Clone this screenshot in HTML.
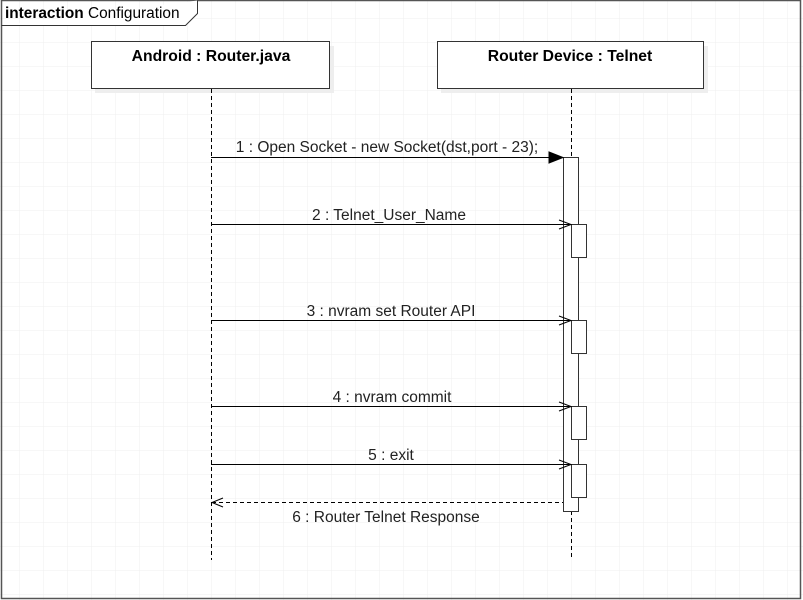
<!DOCTYPE html>
<html><head><style>
body{margin:0;background:#fff;}
svg{display:block;font-family:"Liberation Sans",sans-serif;}
</style></head><body>
<svg width="803" height="600" viewBox="0 0 803 600">
<defs>
<pattern id="g" width="24" height="24" patternUnits="userSpaceOnUse" x="19" y="18">
<path d="M0 0H24M0 0V24" stroke="#efefef" stroke-width="1" fill="none"/>
</pattern>
</defs>
<rect x="0" y="0" width="803" height="600" fill="url(#g)"/>
<rect x="1.5" y="0.5" width="799" height="598" fill="none" stroke="#555" stroke-width="1.5"/>
<path d="M1.5 25.5H185.5L197.5 13.5V0.5" fill="#fff" stroke="#333"/>
<text x="5" y="18" font-size="15.4"><tspan font-weight="bold">interaction</tspan> Configuration</text>

<rect x="95" y="46" width="239" height="47" fill="#eee"/>
<rect x="91.5" y="41.5" width="238" height="47" fill="#fff" stroke="#333"/>
<text x="211" y="61" font-size="15.7" font-weight="bold" text-anchor="middle">Android : Router.java</text>
<rect x="441" y="46" width="267" height="47" fill="#eee"/>
<rect x="437.5" y="41.5" width="266" height="47" fill="#fff" stroke="#333"/>
<text x="570" y="61" font-size="15.7" font-weight="bold" text-anchor="middle">Router Device : Telnet</text>

<g stroke="#000" stroke-dasharray="4,3">
<line x1="211.5" y1="89" x2="211.5" y2="560"/>
<line x1="571.5" y1="89" x2="571.5" y2="157"/>
<line x1="571.5" y1="511" x2="571.5" y2="560"/>
</g>
<rect x="563.5" y="157.5" width="15" height="354" fill="#fff" stroke="#333"/>
<g fill="#fff" stroke="#333">
<rect x="571.5" y="224.5" width="15" height="33"/>
<rect x="571.5" y="320.5" width="15" height="33"/>
<rect x="571.5" y="406.5" width="15" height="33"/>
<rect x="571.5" y="464.5" width="15" height="33"/>
</g>

<g stroke="#000" fill="none">
<line x1="211" y1="157.5" x2="550" y2="157.5"/>
<path d="M549 152L563 157.5L549 163Z" fill="#000"/>
<line x1="211" y1="224.5" x2="571" y2="224.5"/>
<path d="M559 220L571 224.5L559 229"/>
<line x1="211" y1="320.5" x2="571" y2="320.5"/>
<path d="M559 316L571 320.5L559 325"/>
<line x1="211" y1="406.5" x2="571" y2="406.5"/>
<path d="M559 402L571 406.5L559 411"/>
<line x1="211" y1="464.5" x2="571" y2="464.5"/>
<path d="M559 460L571 464.5L559 469"/>
<line x1="212" y1="502.5" x2="563" y2="502.5" stroke-dasharray="4,3"/>
<path d="M223 498L212 502.5L223 507"/>
</g>
<g font-size="15.5" fill="#222" text-anchor="middle">
<text x="387" y="152">1 : Open Socket - new Socket(dst,port - 23);</text>
<text x="389" y="220">2 : Telnet_User_Name</text>
<text x="391" y="316">3 : nvram set Router API</text>
<text x="392" y="402">4 : nvram commit</text>
<text x="391" y="460">5 : exit</text>
<text x="386" y="522">6 : Router Telnet Response</text>
</g>
</svg>
</body></html>
